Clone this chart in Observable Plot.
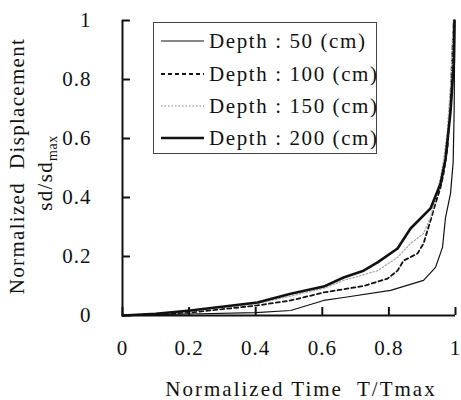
<!DOCTYPE html>
<html>
<head>
<meta charset="utf-8">
<script src="https://cdn.jsdelivr.net/npm/d3@7"></script>
<script src="https://cdn.jsdelivr.net/npm/@observablehq/plot@0.6"></script>
<style>
  body { margin: 0; background: #fff; }
  #wrap { position: relative; width: 461px; height: 400px; font-family: "Liberation Serif", "Times New Roman", serif; color: #111; }
  #wrap svg text { font-family: "Liberation Serif", "Times New Roman", serif; letter-spacing: 1px; }
  .rot { position: absolute; transform: translate(-50%, -50%) rotate(-90deg); white-space: nowrap; font-size: 21px; letter-spacing: 1.3px; }
  .xt { position: absolute; transform: translate(-50%, -50%); white-space: nowrap; font-size: 21px; letter-spacing: 2px; }
  #legend { position: absolute; left: 153px; top: 22px; width: 222px; height: 130px; border: 1px solid #444; background: #fff; }
  .row { position: absolute; left: 0; height: 32px; display: flex; align-items: center; font-size: 21px; letter-spacing: 1.6px; white-space: nowrap; }
  .row svg { margin-left: 7px; margin-right: 5px; }
</style>
</head>
<body>
<div id="wrap"></div>
<script>
// ---- data ----
const seriesNames = ["Depth : 50 (cm)", "Depth : 100 (cm)", "Depth : 150 (cm)", "Depth : 200 (cm)"];
const xTicks = [0, 0.2, 0.4, 0.6, 0.8, 1];
const yTicks = [0, 0.2, 0.4, 0.6, 0.8, 1];

const t50  = [0, 0.2, 0.4, 0.505, 0.604, 0.664, 0.805, 0.904, 0.94, 0.961, 0.97, 0.985, 0.993, 0.996, 0.998];
const v50  = [0, 0.005, 0.01, 0.017, 0.051, 0.061, 0.085, 0.119, 0.163, 0.231, 0.332, 0.413, 0.52, 0.7, 1.0];

const t100 = [0, 0.1, 0.204, 0.405, 0.505, 0.604, 0.724, 0.796, 0.826, 0.844, 0.886, 0.904, 0.925, 0.94, 0.955, 0.964, 0.976, 0.985, 0.99, 0.995];
const v100 = [0, 0.004, 0.01, 0.034, 0.051, 0.078, 0.10, 0.125, 0.152, 0.186, 0.21, 0.244, 0.322, 0.38, 0.434, 0.48, 0.57, 0.72, 0.88, 1.0];

const t150 = [0, 0.2, 0.405, 0.505, 0.604, 0.664, 0.766, 0.826, 0.865, 0.904, 0.925, 0.94, 0.955, 0.964, 0.975, 0.985, 0.993];
const v150 = [0, 0.014, 0.04, 0.066, 0.092, 0.119, 0.152, 0.197, 0.244, 0.278, 0.332, 0.40, 0.468, 0.525, 0.62, 0.78, 1.0];

const t200 = [0, 0.1, 0.204, 0.405, 0.505, 0.604, 0.664, 0.724, 0.766, 0.826, 0.865, 0.925, 0.955, 0.97, 0.985, 0.995, 0.997];
const v200 = [0, 0.006, 0.017, 0.044, 0.074, 0.098, 0.129, 0.152, 0.18, 0.227, 0.295, 0.363, 0.447, 0.53, 0.69, 0.86, 1.0];

// ---- styles ----
const styles = [
  {stroke: "#111", strokeWidth: 1.2, dash: null},
  {stroke: "#111", strokeWidth: 1.8, dash: "4,3"},
  {stroke: "#aaa", strokeWidth: 1.3, dash: "1.5,2"},
  {stroke: "#111", strokeWidth: 2.6, dash: null}
];

const allT = [t50, t100, t150, t200];
const allV = [v50, v100, v150, v200];
const rows = [];
allT.forEach((ts, i) => ts.forEach((t, j) => rows.push({s: i, t, v: allV[i][j]})));

const lineMarks = styles.map((st, i) => Plot.line(rows.filter(d => d.s === i), {
  x: "t", y: "v", stroke: st.stroke, strokeWidth: st.strokeWidth,
  strokeDasharray: st.dash, curve: "linear", strokeLinejoin: "round"
}));

const chart = Plot.plot({
  width: 461,
  height: 400,
  marginLeft: 122,
  marginRight: 6,
  marginTop: 20,
  marginBottom: 85,
  style: {fontFamily: "'Liberation Serif', 'Times New Roman', serif", fontSize: "21px", color: "#111", background: "transparent"},
  x: {domain: [0, 1]},
  y: {domain: [0, 1]},
  marks: [
    ...lineMarks,
    // inward tick marks
    Plot.ruleX(xTicks, {y1: 0, y2: 0.027, strokeWidth: 2, stroke: "#111"}),
    Plot.ruleY(yTicks, {x1: 0, x2: 0.024, strokeWidth: 2, stroke: "#111"}),
    Plot.axisX(xTicks, {tickSize: 0, tickPadding: 25, tickFormat: d => String(d), label: null, fontSize: 21}),
    Plot.axisY(yTicks, {tickSize: 0, tickPadding: 0, dx: -31, tickFormat: d => String(d), label: null, fontSize: 21}),
    Plot.ruleX([0], {strokeWidth: 2, stroke: "#111"}),
    Plot.ruleY([0], {strokeWidth: 2, stroke: "#111"})
  ]
});

const wrap = document.getElementById("wrap");
chart.style.position = "absolute";
chart.style.left = "0";
chart.style.top = "0";
wrap.appendChild(chart);

// axis titles
const yt1 = document.createElement("div");
yt1.className = "rot";
yt1.style.left = "17px"; yt1.style.top = "166px";
yt1.textContent = "Normalized\u00a0 Displacement";
wrap.appendChild(yt1);

const yt2 = document.createElement("div");
yt2.className = "rot";
yt2.style.left = "47px"; yt2.style.top = "173px";
yt2.innerHTML = "sd/sd<sub style='font-size:14px;letter-spacing:0.5px'>max</sub>";
wrap.appendChild(yt2);

const xt = document.createElement("div");
xt.className = "xt";
xt.style.left = "301px"; xt.style.top = "389px";
xt.textContent = "Normalized Time\u00a0 T/Tmax";
wrap.appendChild(xt);

// legend
const leg = document.createElement("div");
leg.id = "legend";
const rowTops = [2, 35, 67, 99];
seriesNames.forEach((name, i) => {
  const st = styles[i];
  const r = document.createElement("div");
  r.className = "row";
  r.style.top = rowTops[i] + "px";
  r.innerHTML = `<svg width="43" height="10"><line x1="0" y1="5" x2="43" y2="5" stroke="${st.stroke}" stroke-width="${st.strokeWidth}" ${st.dash ? `stroke-dasharray="${st.dash}"` : ""}/></svg><span>${name}</span>`;
  leg.appendChild(r);
});
wrap.appendChild(leg);
</script>
</body>
</html>
